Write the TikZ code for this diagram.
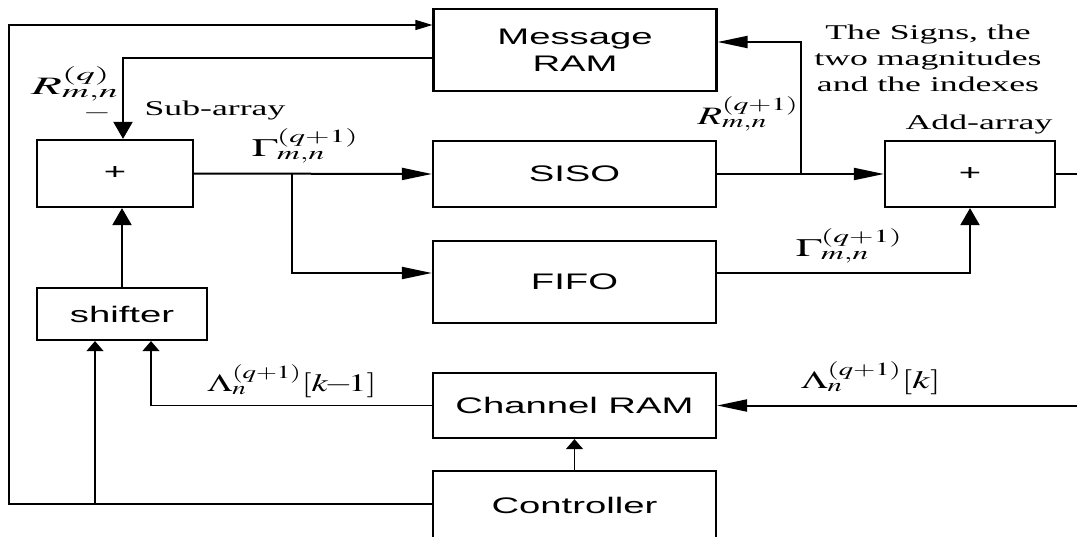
\documentclass[tikz,border=0pt]{standalone}
\usepackage{mathptmx}
\usepackage{fontspec}
\setmainfont{Liberation Serif}
\newfontfamily\boxfont{Liberation Sans}
\usetikzlibrary{arrows.meta}
% widened lettering used throughout the decoder diagram
\newcommand{\stx}[2][1.7]{\scalebox{#1}[1]{#2}}
\tikzset{
  blk/.style={draw, line width=2.2pt, inner sep=0pt, align=center,
              font=\boxfont\fontsize{22.5}{27}\selectfont},
  lbl/.style={inner sep=0pt, align=center, font=\fontsize{21}{26}\selectfont},
  sym/.style={inner sep=0pt, font=\fontsize{25}{30}\selectfont},
  bus/.style={line width=2pt},
  ctl/.style={line width=1.2pt},
  ha/.style={-{Triangle[length=30pt,width=12pt]}},
  va/.style={-{Triangle[length=17pt,width=19pt]}},
  hat/.style={-{Triangle[length=17pt,width=10pt]}},
  vat/.style={-{Triangle[length=10pt,width=17pt]}},
}
\begin{document}
\begin{tikzpicture}[x=1pt,y=-1pt]
\useasboundingbox (0,0) rectangle (1077,536);

% processing blocks
\node[blk, minimum width=283pt, minimum height=82pt] (msg)  at (575,50)    {\stx{Message}\\\stx{RAM}};
\node[blk, minimum width=156pt, minimum height=67pt] (sub)  at (115,173.5) {\stx{+}};
\node[blk, minimum width=283pt, minimum height=66pt] (siso) at (574.5,174) {\stx{SISO}};
\node[blk, minimum width=170pt, minimum height=66pt] (add)  at (970,174)   {\stx{+}};
\node[blk, minimum width=283pt, minimum height=82pt] (fifo) at (574.5,282) {\stx{FIFO}};
\node[blk, minimum width=170pt, minimum height=52pt] (shifter) at (122,314) {\stx{shifter}};
\node[blk, minimum width=283pt, minimum height=65pt] (chan) at (574.5,405.5) {\stx{Channel RAM}};
\node[blk, minimum width=283pt, minimum height=68pt] (ctrl) at (574.5,505) {\stx{Controller}};

% routing points
\coordinate (loopB) at (9,504);
\coordinate (loopT) at (9,25);
\coordinate (tap)   at (95,504);
\coordinate (shin)  at (151,405.5);
\coordinate (chin)  at (1077,405.5);
\coordinate (rdown) at (123,58);
\coordinate (gtap)  at (292,174);
\coordinate (fy)    at (0,273);
\coordinate (rtap)  at (801,174);
\coordinate (ry)    at (0,42);
\coordinate (out)   at (1077,174);

% control paths
\draw[ctl,hat] (ctrl.west |- loopB) -- (loopB) -- (loopT) -- (loopT -| msg.west);
\draw[ctl,vat] (tap) -- (tap |- shifter.south);
\draw[ctl,vat] (chan.west) -- (shin) -- (shin |- shifter.south);
\draw[ctl,vat] (ctrl.north) -- (chan.south);
\draw[bus,ha] (chin) -- (chan.east);

% data paths
\draw[bus,va] (rdown -| msg.west) -- (rdown) -- (rdown |- sub.north);
\draw[bus,va] (shifter.north) -- (shifter.north |- sub.south);
\draw[bus,ha] (sub.east) -- (siso.west);
\draw[bus,ha] (gtap) |- (fifo.west |- fy);
\draw[bus,ha] (siso.east) -- (add.west);
\draw[bus,ha] (rtap) |- (msg.east |- ry);
\draw[bus,va] (fifo.east |- fy) -| (add.south);
\draw[bus] (add.east) -- (out);

% signal labels
\node[sym] (rq)   at (75,84)   {\stx[2.0]{$R^{(q)}_{m,n}$}};
\node[lbl] (mns)  at (97,113)  {\stx{$-$}};
\node[lbl] (subl) at (215,110) {\stx{Sub-array}};
\node[sym] (g1)   at (305,146) {\stx{$\Gamma^{(q+1)}_{m,n}$}};
\node[sym] (rq1)  at (748,114) {\stx[1.6]{$R^{(q+1)}_{m,n}$}};
\node[lbl] (sig)  at (928,58)  {\stx{The Signs, the}\\\stx{two magnitudes}\\\stx{and the indexes}};
\node[lbl] (addl) at (979,124) {\stx{Add-array}};
\node[sym] (g2)   at (849,246) {\stx{$\Gamma^{(q+1)}_{m,n}$}};
\node[sym] (lk1)  at (292,381) {\stx[1.45]{$\Lambda^{(q+1)}_{n}[k\mkern-2mu{-}\mkern-2mu1]$}};
\node[sym] (lk)   at (871,378) {\stx[1.55]{$\Lambda^{(q+1)}_{n}[k]$}};
\end{tikzpicture}
\end{document}
